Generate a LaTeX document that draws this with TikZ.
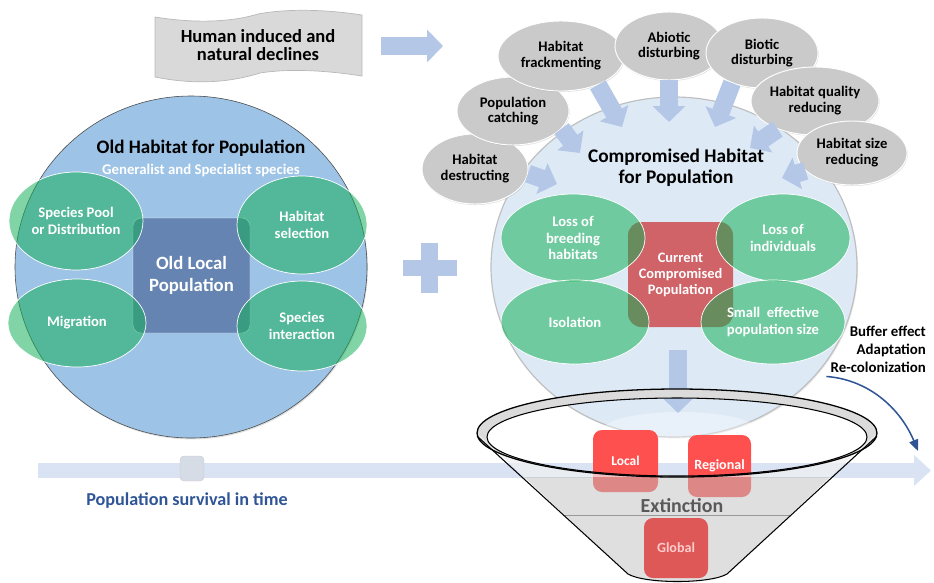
\documentclass[tikz,border=0pt]{standalone}
\usepackage{fontspec}
\setmainfont{Carlito}
\usetikzlibrary{shapes.geometric,arrows.meta,shadows}

\definecolor{banner}{HTML}{D9D9D9}
\definecolor{banneredge}{HTML}{B8B8B8}
\definecolor{arrowblue}{HTML}{B4C7E7}
\definecolor{oldblue}{HTML}{9DC3E6}
\definecolor{slate}{HTML}{6584B2}
\definecolor{leaf}{HTML}{14AF58}
\definecolor{paleblue}{HTML}{DDEAF6}
\definecolor{sphereedge}{HTML}{C4D2E0}
\definecolor{rose}{HTML}{CF6368}
\definecolor{cause}{HTML}{CACACA}
\definecolor{timeline}{HTML}{DAE3F3}
\definecolor{knob}{HTML}{D6DCE5}
\definecolor{navy}{HTML}{2F5597}
\definecolor{alarm}{HTML}{FF5050}
\definecolor{alarmdark}{HTML}{DE5858}
\definecolor{ash}{HTML}{595959}

\pgfdeclareradialshading{sphere}{\pgfpoint{0bp}{0bp}}{color(0bp)=(paleblue); color(36bp)=(paleblue); color(50bp)=(sphereedge)}

\tikzset{
  causebox/.style={ellipse, draw=white, line width=0.8pt, fill=cause, inner sep=0pt, align=center,
    font=\fontsize{12.5}{13.5}\selectfont\bfseries,
    drop shadow={opacity=0.25, shadow xshift=0.6pt, shadow yshift=-0.9pt}},
  leafbox/.style={ellipse, draw=white, line width=0.6pt, fill=leaf, fill opacity=0.54, text opacity=1,
    text=white, inner sep=0pt, align=center, font=\fontsize{12.5}{14}\selectfont\bfseries},
  redbox/.style={rounded corners=2.7mm, fill=alarm, text=white, inner sep=0pt,
    font=\fontsize{11.5}{13}\selectfont\bfseries},
  blk/.style={draw=arrowblue, line width=5.4mm, -{Triangle[length=4.8mm,width=9.6mm]}},
}

\begin{document}
\begin{tikzpicture}[x=0.3mm, y=-0.3mm]
  \useasboundingbox (0,0) rectangle (934,582);

  % banner and the arrow after it
  \draw[draw=banneredge, fill=banner, line width=0.6pt]
    (155,17) .. controls (185,22) and (225,24) .. (258,14) .. controls (290,8) and (330,10) .. (362,15)
    -- (362,76) .. controls (330,71) and (292,68) .. (260,73) .. controls (225,84) and (190,84) .. (155,77) -- cycle;
  \node[font=\fontsize{15.8}{16}\selectfont\bfseries, align=center] (decline) at (258,45) {Human induced and\\natural declines};
  \coordinate (d1) at (381,46);
  \coordinate (d2) at (443,46);
  \draw[blk] (d1) -- (d2);

  % time line
  \coordinate (t0) at (38,470.5);
  \coordinate (t1) at (931,470.5);
  \draw[draw=timeline, line width=4.6mm, -{Triangle[length=5.1mm,width=9mm]}] (t0) -- (t1);
  \node[draw=black!20, fill=knob, rounded corners=1.2mm, minimum width=7.2mm, minimum height=7.5mm] (knob) at (192,468.5) {};
  \node[text=navy, font=\fontsize{15.5}{17}\selectfont\bfseries] (survive) at (187,501) {Population survival in time};

  % old habitat
  \node[ellipse, fill=oldblue, draw=black!70, line width=0.5pt, minimum width=105.6mm, minimum height=102.6mm,
    drop shadow={opacity=0.25, shadow xshift=0.8pt, shadow yshift=-1.2pt}] (oldhab) at (191,267) {};
  \node[font=\fontsize{16.3}{18}\selectfont\bfseries] (oldtitle) at (201,148) {Old Habitat for Population};
  \node[text=white, font=\fontsize{12.6}{14}\selectfont\bfseries] (oldsub) at (201,170) {Generalist and Specialist species};
  \node[fill=slate, draw=white!70, line width=0.4pt, rounded corners=2.4mm, minimum width=35.1mm, minimum height=34.5mm,
    text=white, align=center, font=\fontsize{16}{19}\selectfont\bfseries] (oldpop) at (191.5,275.5) {Old Local\\Population};
  \node[leafbox, minimum width=40.2mm, minimum height=29.4mm] (pool) at (76,221) {Species Pool\\or Distribution};
  \node[leafbox, minimum width=39mm, minimum height=29.4mm] (hsel) at (302,225) {Habitat\\selection};
  \node[leafbox, minimum width=41.4mm, minimum height=26.4mm] (migr) at (77,323) {Migration};
  \node[leafbox, minimum width=39mm, minimum height=27mm] (sint) at (302,326) {Species\\interaction};

  % plus
  \fill[arrowblue] (403,260) rectangle (457,276);
  \fill[arrowblue] (421,243) rectangle (438,293);

  % compromised habitat
  \node[ellipse, shading=sphere, draw=black!25, line width=1pt, minimum width=109.8mm, minimum height=102mm,
    drop shadow={opacity=0.2, shadow xshift=0.8pt, shadow yshift=-1.2pt}] (comp) at (674,267) {};
  \fill[white, opacity=0.35] (680,430) ellipse (77 and 18);

  % causes
  \node[causebox, minimum width=31.8mm, minimum height=21mm] (destr) at (475,169) {Habitat\\destructing};
  \node[causebox, minimum width=33.6mm, minimum height=20.4mm] (catch) at (513,111) {Population\\catching};
  \node[causebox, minimum width=37.8mm, minimum height=21mm] (frack) at (561,56) {Habitat\\frackmenting};
  \node[causebox, minimum width=32.4mm, minimum height=20.4mm] (abio) at (669,46) {Abiotic\\disturbing};
  \node[causebox, minimum width=33.6mm, minimum height=21mm] (bio) at (762,53) {Biotic\\disturbing};
  \node[causebox, minimum width=38.4mm, minimum height=20.4mm] (qual) at (815,101) {Habitat quality\\reducing};
  \node[causebox, minimum width=33mm, minimum height=19.2mm] (size) at (852,153) {Habitat size\\reducing};

  \coordinate (a1) at (557,184);
  \coordinate (a2) at (580,153);
  \coordinate (a3) at (622,127);
  \coordinate (a4) at (669,122);
  \coordinate (a5) at (715,127);
  \coordinate (a6) at (750,148);
  \coordinate (a7) at (782,178);
  \draw[blk] (destr.-5) -- (a1);
  \draw[blk] (catch.-20) -- (a2);
  \draw[blk] (frack.-38) -- (a3);
  \draw[blk] (abio.south) -- (a4);
  \draw[blk] (bio.-135) -- (a5);
  \draw[blk] (qual.-143) -- (a6);
  \draw[blk] (size.-159) -- (a7);

  \node[align=center, font=\fontsize{16.5}{18}\selectfont\bfseries] (comptitle) at (676,168) {Compromised Habitat\\for Population};

  \node[fill=rose, rounded corners=4mm, minimum width=31.5mm, minimum height=31.5mm, text=white, align=center,
    font=\fontsize{12.3}{13.7}\selectfont\bfseries] (current) at (680.5,274.5) {Current\\Compromised\\Population};
  \node[leafbox, minimum width=43.2mm, minimum height=26.4mm] (breed) at (573,238) {Loss of\\breeding\\habitats};
  \node[leafbox, minimum width=40.2mm, minimum height=26.4mm] (indiv) at (783,238) {Loss of\\individuals};
  \node[leafbox, minimum width=44.4mm, minimum height=25.2mm] (isol) at (575,322) {Isolation};
  \node[leafbox, minimum width=43.2mm, minimum height=25.2mm] (small) at (773,322) {Small\ \ effective\\population size};

  \coordinate (f0) at (678,350);
  \coordinate (f1) at (678,413);
  \draw[blk] (f0) -- (f1);

  % funnel
  \fill[black!14, even odd rule] (677,433) ellipse (200 and 44) (677,437) ellipse (190 and 39);
  \node[redbox, minimum width=19.5mm, minimum height=18.6mm] (local) at (625.5,461) {Local};
  \node[redbox, minimum width=18.9mm, minimum height=18.6mm, font=\fontsize{12}{14}\selectfont\bfseries] (regional) at (719.5,466) {Regional};
  \begin{scope}
    \clip (477,433) -- (628,574) .. controls (645,584) and (710,584) .. (727,574) -- (877,433)
      arc[start angle=0, end angle=180, x radius=200, y radius=44] -- cycle;
    \fill[black!6, opacity=0.7] (470,380) rectangle (890,477);
    \fill[black!25, opacity=0.5] (470,477) rectangle (890,590);
  \end{scope}
  \draw[black!40] (563,515) -- (791,515);
  \draw[line width=0.9pt] (477,436) -- (628,574) .. controls (645,584) and (710,584) .. (727,574) -- (877,436);
  \draw[line width=1.1pt] (677,433) ellipse (200 and 44);
  \draw[line width=0.9pt] (677,437) ellipse (190 and 39);
  \node[text=ash, font=\fontsize{17}{19}\selectfont\bfseries] (extinct) at (682,506) {Extinction};
  \node[redbox, fill=alarmdark, text=red!20!white, minimum width=19.2mm, minimum height=18mm,
    font=\fontsize{12}{14}\selectfont\bfseries] (global) at (676,548) {Global};

  % recovery
  \node[anchor=east, align=right, font=\fontsize{12.7}{15.4}\selectfont\bfseries] (buffer) at (930,349) {Buffer effect\\Adaptation\\Re-colonization};
  \coordinate (c1) at (918,451);
  \draw[navy, line width=1.3pt, -{Triangle[length=3.4mm,width=2.8mm]}]
    (buffer.south west) .. controls (872,380) and (902,412) .. (c1);
\end{tikzpicture}
\end{document}
